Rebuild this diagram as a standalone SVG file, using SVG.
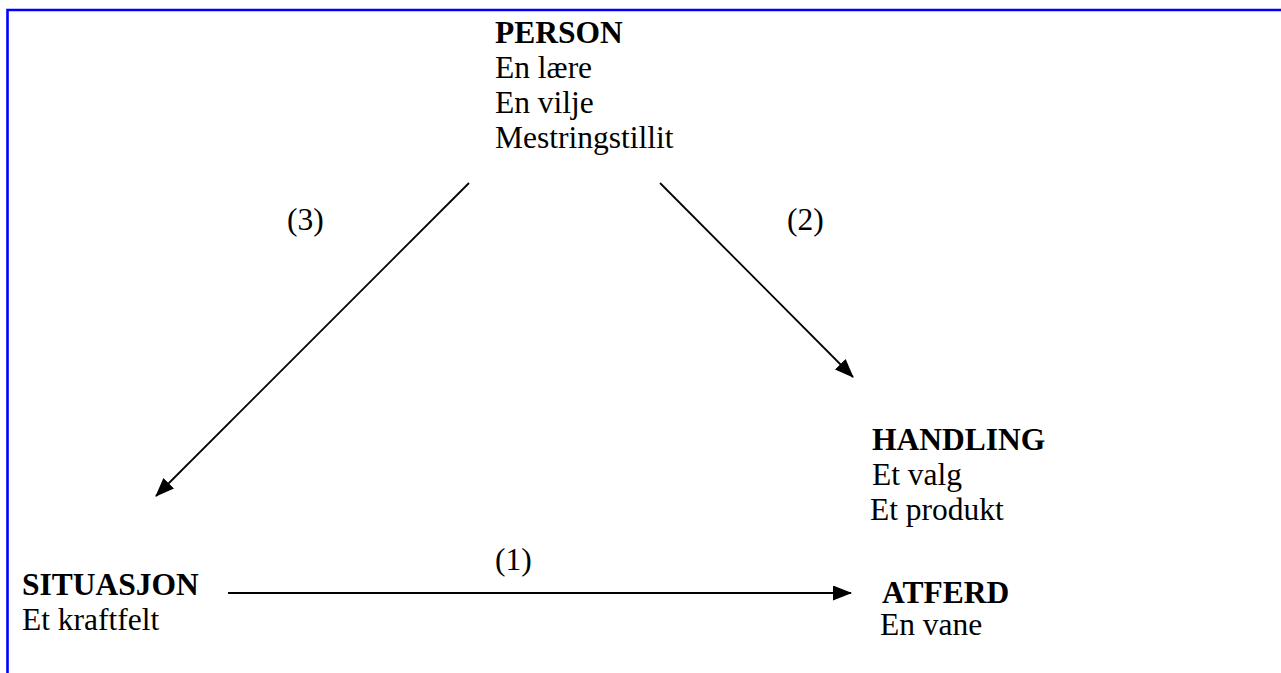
<svg xmlns="http://www.w3.org/2000/svg" width="1281" height="673" viewBox="0 0 1281 673">
<style>
text{font-family:"Liberation Serif","Times New Roman",serif;font-size:31.5px;fill:#000}
.b{font-weight:bold}
.c{stroke:#000;stroke-width:1.8;fill:none}
.frame{stroke:#0000ff;stroke-width:2.6;fill:none}
</style>
<defs>
<marker id="ah2" markerWidth="19" markerHeight="15" refX="18" refY="7.5" orient="auto" markerUnits="userSpaceOnUse" viewBox="0 0 19 15">
<path d="M0,0 L19,7.5 L0,15 Z" fill="#000"/>
</marker>
</defs>
<path class="frame" d="M7.5,673 V10 H1281"/>
<g id="connectors">
<line class="c" x1="469" y1="183" x2="156" y2="496" marker-end="url(#ah2)"/>
<line class="c" x1="660" y1="183" x2="853" y2="377" marker-end="url(#ah2)"/>
<line class="c" x1="228" y1="593" x2="851" y2="593" marker-end="url(#ah2)"/>
<text x="287" y="230">(3)</text>
<text x="787" y="230">(2)</text>
<text x="495" y="570">(1)</text>
</g>
<g id="person">
<text class="b" x="495" y="43">PERSON</text>
<text x="495" y="78">En lære</text>
<text x="495" y="113">En vilje</text>
<text x="495" y="148">Mestringstillit</text>
</g>
<g id="handling">
<text class="b" x="872" y="450">HANDLING</text>
<text x="872" y="485">Et valg</text>
<text x="870" y="520">Et produkt</text>
</g>
<g id="situasjon">
<text class="b" x="22" y="595">SITUASJON</text>
<text x="22" y="630">Et kraftfelt</text>
</g>
<g id="atferd">
<text class="b" x="882" y="603">ATFERD</text>
<text x="880" y="635">En vane</text>
</g>
</svg>
